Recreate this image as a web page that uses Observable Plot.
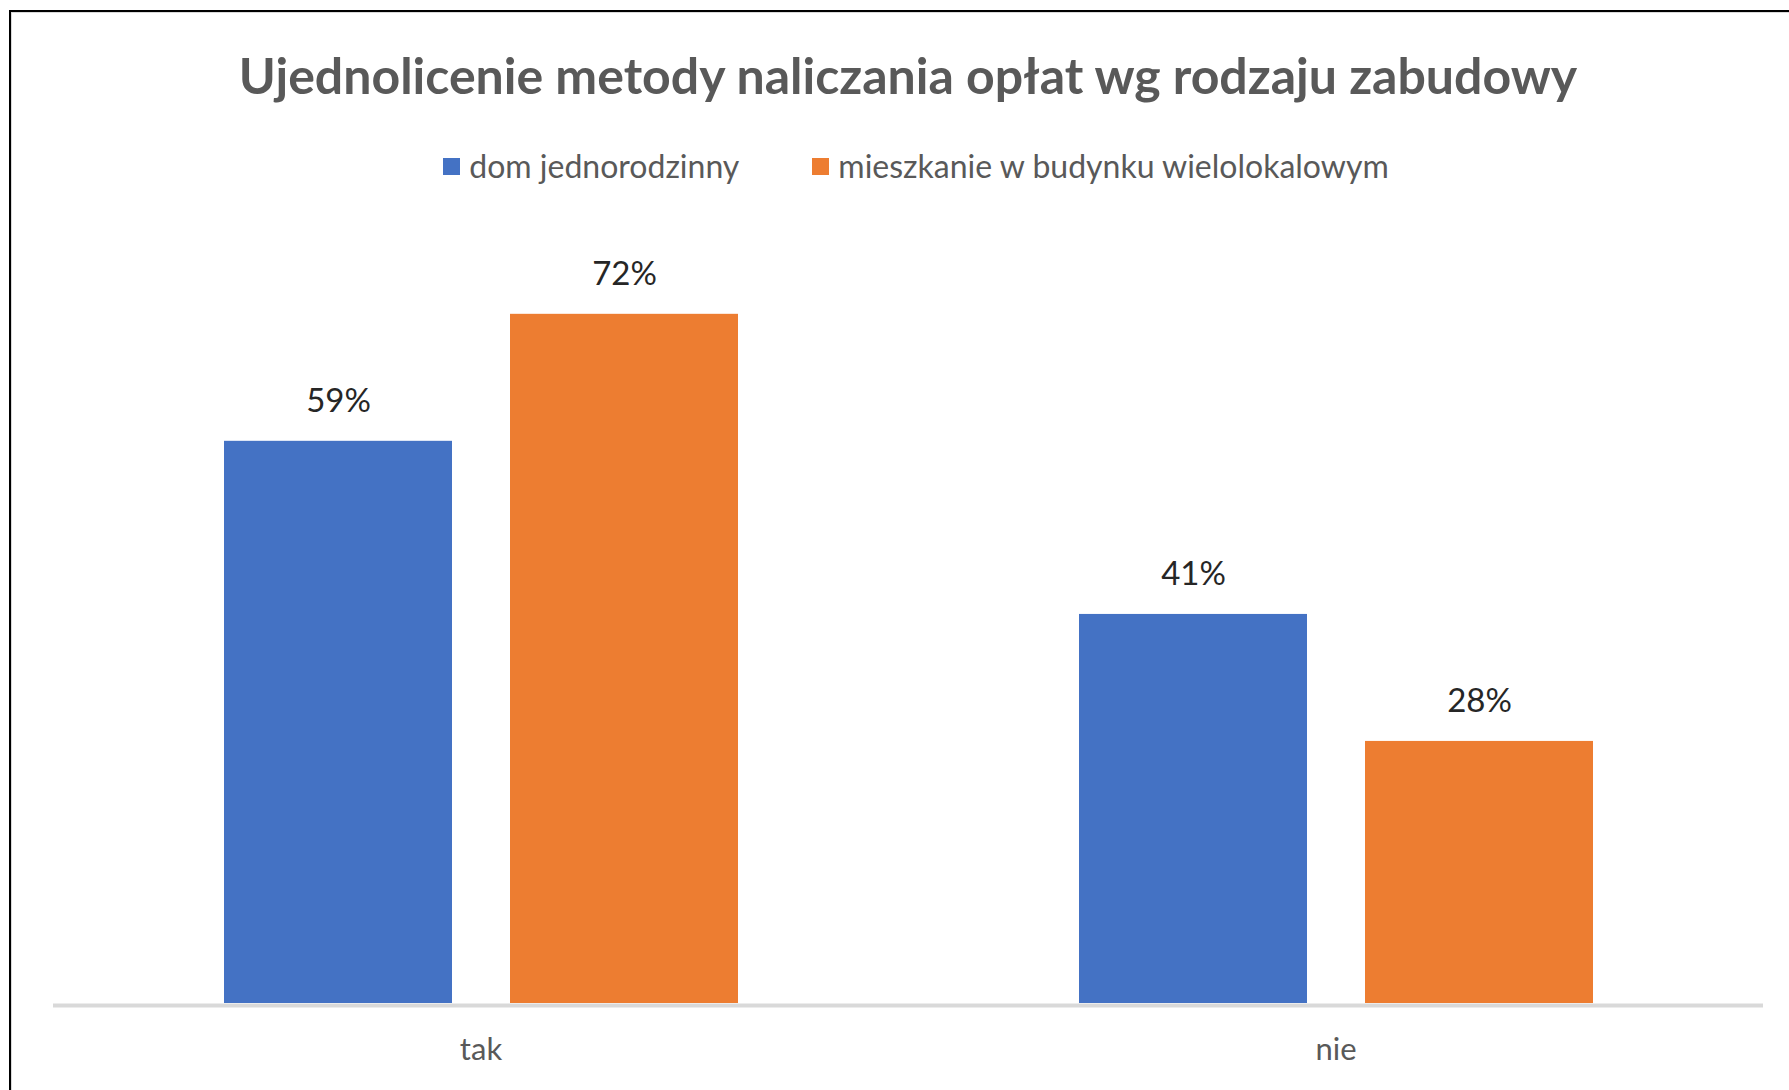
<!DOCTYPE html>
<html><head><meta charset="utf-8">
<script src="https://cdn.jsdelivr.net/npm/d3@7"></script>
<script src="https://cdn.jsdelivr.net/npm/@observablehq/plot@0.6"></script>
<style>
html,body{margin:0;padding:0;background:#fff;overflow:hidden;width:1789px;height:1090px;}
#frame{position:absolute;left:9px;top:10px;width:1820px;height:1120px;border-left:2px solid #000;border-top:2px solid #000;}
#chart{position:absolute;left:0;top:0;width:1792px;height:1110px;border-left:1px solid #d9d9d9;border-top:1px solid #d9d9d9;font-family:Lato,"Open Sans",sans-serif;}
#title{position:absolute;left:0;top:37px;width:1792px;text-align:center;font-weight:700;font-size:50px;line-height:50px;color:#595959;white-space:nowrap;}
#legend{position:absolute;left:0;top:137px;width:1792px;padding-left:16px;box-sizing:border-box;display:flex;justify-content:center;gap:73px;font-size:32px;line-height:32px;color:#595959;white-space:nowrap;}
.item{display:flex;align-items:center;}
.sw{width:17px;height:17px;margin-right:9px;}
#plot{position:absolute;left:0;top:187px;}
</style>
</head><body>
<div id="frame"><div id="chart">
<div id="title"></div>
<div id="legend"></div>
<div id="plot"></div>
</div></div>
<script>
const titleText = "Ujednolicenie metody naliczania opłat wg rodzaju zabudowy";
const categories = ["tak", "nie"];
const series = ["dom jednorodzinny", "mieszkanie w budynku wielolokalowym"];
// values (labels show them rounded)
const domJednorodzinny = [59.1, 40.9];
const mieszkanieWielolokalowe = [72.45, 27.55];
const colors = ["#4472C4", "#ED7D31"];

document.getElementById("title").textContent = titleText;
const legend = document.getElementById("legend");
series.forEach((s, i) => {
  const it = document.createElement("div");
  it.className = "item";
  const sw = document.createElement("span");
  sw.className = "sw";
  sw.style.background = colors[i];
  const tx = document.createElement("span");
  tx.textContent = s;
  it.appendChild(sw); it.appendChild(tx);
  legend.appendChild(it);
});

const rows = [];
categories.forEach((c, i) => {
  rows.push({category: c, series: series[0], value: domJednorodzinny[i]});
  rows.push({category: c, series: series[1], value: mieszkanieWielolokalowe[i]});
});

const chart = Plot.plot({
  width: 1792,
  height: 890,
  marginLeft: 41,
  marginRight: 41,
  marginTop: 42,
  marginBottom: 87,
  style: {fontFamily: "Lato, 'Open Sans', sans-serif", background: "transparent"},
  fx: {domain: categories, padding: 0, label: null},
  x: {domain: series, paddingInner: 0.2028, paddingOuter: 0.596, axis: null},
  y: {domain: [0, 80], axis: null},
  color: {domain: series, range: colors},
  marks: [
    Plot.ruleY([0], {stroke: "#d9d9d9", strokeWidth: 4, dy: 2}),
    Plot.barY(rows, {fx: "category", x: "series", y: "value", fill: "series"}),
    Plot.text(rows, {fx: "category", x: "series", y: "value", text: d => Math.round(d.value) + "%", dy: -40, fontSize: 33, fill: "#262626"}),
    Plot.axisFx({anchor: "bottom", tickSize: 0, tickPadding: 34, fontSize: 31, fill: "#595959", label: null})
  ]
});
document.getElementById("plot").appendChild(chart);
</script>
</body></html>
